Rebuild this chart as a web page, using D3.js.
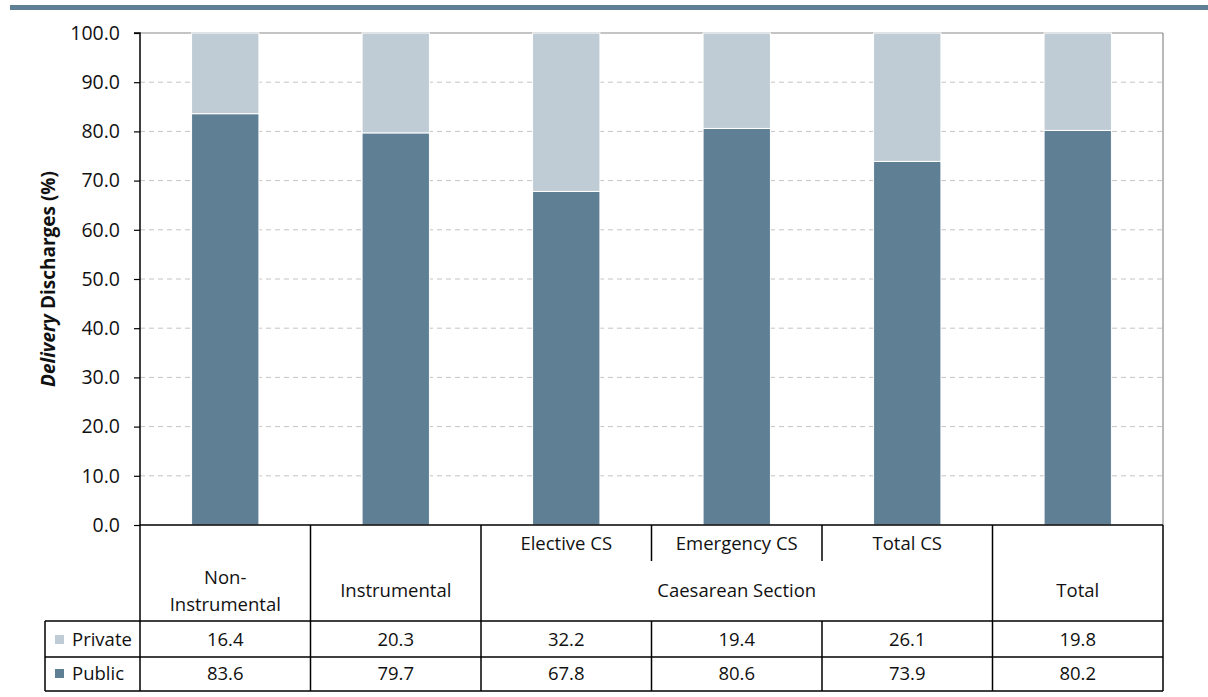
<!DOCTYPE html>
<html><head><meta charset="utf-8">
<script src="https://cdn.jsdelivr.net/npm/d3@7/dist/d3.min.js"></script>
<style>body{margin:0;background:#fff}svg{display:block}</style>
</head><body><div id="chart"></div>
<script>
const categories = ["Non-Instrumental","Instrumental","Elective CS","Emergency CS","Total CS","Total"];
const privateVals = [16.4,20.3,32.2,19.4,26.1,19.8];
const publicVals = [83.6,79.7,67.8,80.6,73.9,80.2];
const yTicks = [0,10,20,30,40,50,60,70,80,90,100];
const seriesNames = ["Private","Public"];

(function(){
const W=1208,H=697;
const colors={Public:"#5f7f95",Private:"#bfccd5"};
const pL=140,pR=1163,pT=33,pB=525;
const svg=d3.select("#chart").append("svg").attr("width",W).attr("height",H);
const tableFont="'Open Sans', sans-serif";
const fs=18.5;

svg.append("rect").attr("x",10).attr("y",5).attr("width",W-10).attr("height",5).attr("fill","#5f7f95");

const x=d3.scaleBand().domain(categories).range([pL,pR]).paddingInner(0.605).paddingOuter(0.3025);
const y=d3.scaleLinear().domain([0,100]).range([pB,pT]);

svg.append("g").selectAll("line").data(yTicks.filter(t=>t>0&&t<100)).join("line")
 .attr("x1",pL).attr("x2",pR).attr("y1",d=>y(d)).attr("y2",d=>y(d))
 .attr("stroke","#c4c4c4").attr("stroke-width",1).attr("stroke-dasharray","5,4");
svg.append("line").attr("x1",pL).attr("x2",pR).attr("y1",y(100)).attr("y2",y(100)).attr("stroke","#8a8a8a").attr("stroke-width",1.2);
svg.append("line").attr("x1",pR).attr("x2",pR).attr("y1",y(100)).attr("y2",y(0)).attr("stroke","#8a8a8a").attr("stroke-width",1.2);

const stackData=categories.map((c,i)=>({cat:c,Public:publicVals[i],Private:privateVals[i]}));
const stack=d3.stack().keys(["Public","Private"])(stackData);
svg.append("g").selectAll("g").data(stack).join("g").attr("fill",d=>colors[d.key])
 .selectAll("rect").data(d=>d).join("rect")
 .attr("x",d=>x(d.data.cat)).attr("width",x.bandwidth())
 .attr("y",d=>y(d[1])).attr("height",d=>y(d[0])-y(d[1]))
 .attr("stroke","#fff").attr("stroke-width",1);

const yAxis=d3.axisLeft(y).tickValues(yTicks).tickFormat(d3.format(".1f")).tickSize(6).tickPadding(14);
const ga=svg.append("g").attr("transform",`translate(${pL},0)`).call(yAxis);
ga.select(".domain").attr("stroke","#000").attr("stroke-width",1.5).attr("d",`M-6,${pT}H0V${pB}`);
ga.selectAll(".tick line").attr("stroke","#000").attr("stroke-width",1.2);
ga.selectAll("text").attr("font-family","'Open Sans', sans-serif").attr("font-size",19.5).attr("fill","#111");

const yl=svg.append("text").attr("transform",`translate(55,${(pT+pB)/2}) rotate(-90)`)
 .attr("text-anchor","middle").attr("font-family","'Open Sans', sans-serif").attr("font-size",19).attr("font-weight","bold").attr("fill","#111");
yl.append("tspan").attr("font-style","italic").text("Delivery");
yl.append("tspan").text(" Discharges (%)");

const step=x.step();
const bnd=i=>pL+i*step;
const r0=pB,r1=621,r2=657,r3=691,lx=45;
const tl=svg.append("g").attr("stroke","#000").attr("stroke-width",1.5);
tl.append("line").attr("x1",pL).attr("x2",pR).attr("y1",r0).attr("y2",r0);
[r1,r2,r3].forEach(r=>tl.append("line").attr("x1",lx).attr("x2",pR).attr("y1",r).attr("y2",r));
tl.append("line").attr("x1",lx).attr("x2",lx).attr("y1",r1).attr("y2",r3);
[0,1,2,5,6].forEach(i=>tl.append("line").attr("x1",bnd(i)).attr("x2",bnd(i)).attr("y1",r0).attr("y2",r3));
[3,4].forEach(i=>{
 tl.append("line").attr("x1",bnd(i)).attr("x2",bnd(i)).attr("y1",r0).attr("y2",561);
 tl.append("line").attr("x1",bnd(i)).attr("x2",bnd(i)).attr("y1",r1).attr("y2",r3);
});

const tt=svg.append("g").attr("font-family",tableFont).attr("font-size",fs).attr("fill","#111").attr("text-anchor","middle");
const cx=i=>x(categories[i])+x.bandwidth()/2;
tt.append("text").attr("x",cx(0)).attr("y",584).text("Non-");
tt.append("text").attr("x",cx(0)).attr("y",611).text("Instrumental");
tt.append("text").attr("x",cx(1)).attr("y",597).text("Instrumental");
[2,3,4].forEach(i=>tt.append("text").attr("x",cx(i)).attr("y",550).text(categories[i]));
tt.append("text").attr("x",(bnd(2)+bnd(5))/2).attr("y",597).text("Caesarean Section");
tt.append("text").attr("x",cx(5)).attr("y",597).text("Total");
[privateVals,publicVals].forEach((vals,k)=>{
 const yy=k===0?646:680;
 vals.forEach((v,i)=>tt.append("text").attr("x",cx(i)).attr("y",yy).text(v.toFixed(1)));
 svg.append("rect").attr("x",55).attr("y",yy-11).attr("width",9).attr("height",9).attr("fill",colors[seriesNames[k]]);
 svg.append("text").attr("x",72).attr("y",yy).attr("font-family",tableFont).attr("font-size",fs).attr("fill","#111").text(seriesNames[k]);
});
})();
</script></body></html>
